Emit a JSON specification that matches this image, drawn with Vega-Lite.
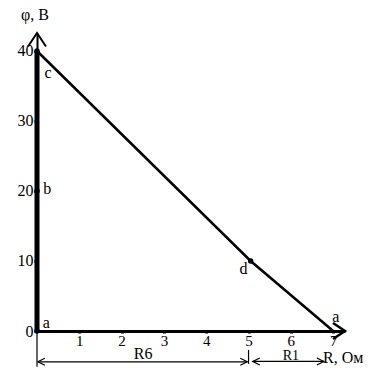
{
  "$schema": "https://vega.github.io/schema/vega-lite/v6.json",
  "autosize": "none",
  "width": 308,
  "height": 298,
  "padding": {"left": 37, "top": 33, "right": 24, "bottom": 38},
  "background": "white",
  "config": {"view": {"stroke": null}, "font": "Liberation Serif"},
  "datasets": {
    "pts": [
      {"name": "a", "R": 0, "phi": 0},
      {"name": "b", "R": 0, "phi": 20},
      {"name": "c", "R": 0, "phi": 40},
      {"name": "d", "R": 5.05, "phi": 10}
    ],
    "path": [
      {"R": 0, "phi": 40, "o": 1},
      {"R": 5.05, "phi": 10, "o": 2},
      {"R": 7, "phi": 0, "o": 3}
    ],
    "segs": [
      {"x": 0, "x2": 0, "y": 0, "y2": -5.1},
      {"x": 5, "x2": 5, "y": -2.7, "y2": -4.7},
      {"x": 0.02, "x2": 4.97, "y": -4.4, "y2": -4.4},
      {"x": 5.1, "x2": 6.78, "y": -4.35, "y2": -4.35}
    ],
    "arrows": [
      {"x": 4.97, "y": -4.4, "dir": "right"},
      {"x": 6.78, "y": -4.35, "dir": "right"},
      {"x": 0.02, "y": -4.4, "dir": "left"},
      {"x": 5.1, "y": -4.35, "dir": "left"}
    ],
    "labels": [
      {"t": "φ, В", "x": -0.05, "y": 45.1, "a": "center", "s": "n"},
      {"t": "c", "x": 0.26, "y": 36.9, "a": "center", "s": "n"},
      {"t": "b", "x": 0.24, "y": 20.3, "a": "center", "s": "n"},
      {"t": "a", "x": 0.22, "y": 1.1, "a": "center", "s": "n"},
      {"t": "d", "x": 4.88, "y": 8.9, "a": "center", "s": "n"},
      {"t": "a", "x": 7.06, "y": 2.0, "a": "center", "s": "n"},
      {"t": "R6", "x": 2.51, "y": -3.3, "a": "center", "s": "n"},
      {"t": "R1", "x": 6.0, "y": -3.62, "a": "center", "s": "s"},
      {"t": "R, Ом", "x": 6.76, "y": -3.9, "a": "left", "s": "n"}
    ]
  },
  "layer": [
    {
      "data": {"name": "pts"},
      "mark": {"type": "rule", "strokeWidth": 5, "color": "black"},
      "transform": [{"filter": "datum.name === 'a'"}],
      "encoding": {
        "x": {"field": "R", "type": "quantitative", "scale": {"domain": [0, 7.28], "nice": false, "zero": false},
          "axis": {"values": [1, 2, 3, 4, 5, 6, 7], "title": null, "grid": false, "domainColor": "black", "domainWidth": 3,
            "tickColor": "black", "tickSize": 2, "tickWidth": 3, "labelFont": "Liberation Serif", "labelFontSize": 15,
            "labelColor": "black", "labelPadding": 0, "labelFlush": false}},
        "y": {"field": "phi", "type": "quantitative", "scale": {"domain": [0, 42.57], "nice": false, "zero": false},
          "axis": {"values": [0, 10, 20, 30, 40], "title": null, "grid": false, "domainColor": "black", "domainWidth": 2,
            "tickColor": "black", "tickSize": 3, "tickWidth": 3, "labelFont": "Liberation Serif", "labelFontSize": 16,
            "labelColor": "black", "labelPadding": 1, "labelFlush": false}},
        "y2": {"datum": 40}
      }
    },
    {
      "data": {"name": "path"},
      "mark": {"type": "line", "strokeWidth": 2.5, "color": "black"},
      "encoding": {
        "x": {"field": "R", "type": "quantitative"},
        "y": {"field": "phi", "type": "quantitative"},
        "order": {"field": "o"}
      }
    },
    {
      "data": {"name": "segs"},
      "mark": {"type": "rule", "strokeWidth": 1.2, "color": "black"},
      "encoding": {
        "x": {"field": "x", "type": "quantitative"},
        "x2": {"field": "x2"},
        "y": {"field": "y", "type": "quantitative"},
        "y2": {"field": "y2"}
      }
    },
    {
      "data": {"name": "arrows"},
      "transform": [{"filter": "datum.dir === 'right'"}],
      "mark": {"type": "point", "shape": "M -2 -1 L 0 0 L -2 1", "filled": false, "stroke": "black", "strokeWidth": 1.2, "size": 49, "opacity": 1},
      "encoding": {
        "x": {"field": "x", "type": "quantitative"},
        "y": {"field": "y", "type": "quantitative"}
      }
    },
    {
      "data": {"name": "arrows"},
      "transform": [{"filter": "datum.dir === 'left'"}],
      "mark": {"type": "point", "shape": "M 2 -1 L 0 0 L 2 1", "filled": false, "stroke": "black", "strokeWidth": 1.2, "size": 49, "opacity": 1},
      "encoding": {
        "x": {"field": "x", "type": "quantitative"},
        "y": {"field": "y", "type": "quantitative"}
      }
    },
    {
      "data": {"values": [{"x": 7.28, "y": 0}]},
      "mark": {"type": "point", "shape": "M -1.5 -1 L 0 0 L -1.5 1", "filled": false, "stroke": "black", "strokeWidth": 2.5, "size": 256, "opacity": 1},
      "encoding": {
        "x": {"field": "x", "type": "quantitative"},
        "y": {"field": "y", "type": "quantitative"}
      }
    },
    {
      "data": {"values": [{"x": 0, "y": 42.57}]},
      "mark": {"type": "point", "shape": "M -1 1.5 L 0 0 L 1 1.5", "filled": false, "stroke": "black", "strokeWidth": 2, "size": 324, "opacity": 1},
      "encoding": {
        "x": {"field": "x", "type": "quantitative"},
        "y": {"field": "y", "type": "quantitative"}
      }
    },
    {
      "data": {"name": "pts"},
      "mark": {"type": "point", "filled": true, "color": "black", "size": 30, "opacity": 1},
      "encoding": {
        "x": {"field": "R", "type": "quantitative"},
        "y": {"field": "phi", "type": "quantitative"}
      }
    },
    {
      "data": {"name": "labels"},
      "transform": [{"filter": "datum.a === 'center' && datum.s === 'n'"}],
      "mark": {"type": "text", "font": "Liberation Serif", "fontSize": 16, "color": "black", "align": "center", "baseline": "middle"},
      "encoding": {
        "x": {"field": "x", "type": "quantitative"},
        "y": {"field": "y", "type": "quantitative"},
        "text": {"field": "t"}
      }
    },
    {
      "data": {"name": "labels"},
      "transform": [{"filter": "datum.s === 's'"}],
      "mark": {"type": "text", "font": "Liberation Serif", "fontSize": 14, "color": "black", "align": "center", "baseline": "middle"},
      "encoding": {
        "x": {"field": "x", "type": "quantitative"},
        "y": {"field": "y", "type": "quantitative"},
        "text": {"field": "t"}
      }
    },
    {
      "data": {"name": "labels"},
      "transform": [{"filter": "datum.a === 'left'"}],
      "mark": {"type": "text", "font": "Liberation Serif", "fontSize": 16, "color": "black", "align": "left", "baseline": "middle"},
      "encoding": {
        "x": {"field": "x", "type": "quantitative"},
        "y": {"field": "y", "type": "quantitative"},
        "text": {"field": "t"}
      }
    }
  ]
}
